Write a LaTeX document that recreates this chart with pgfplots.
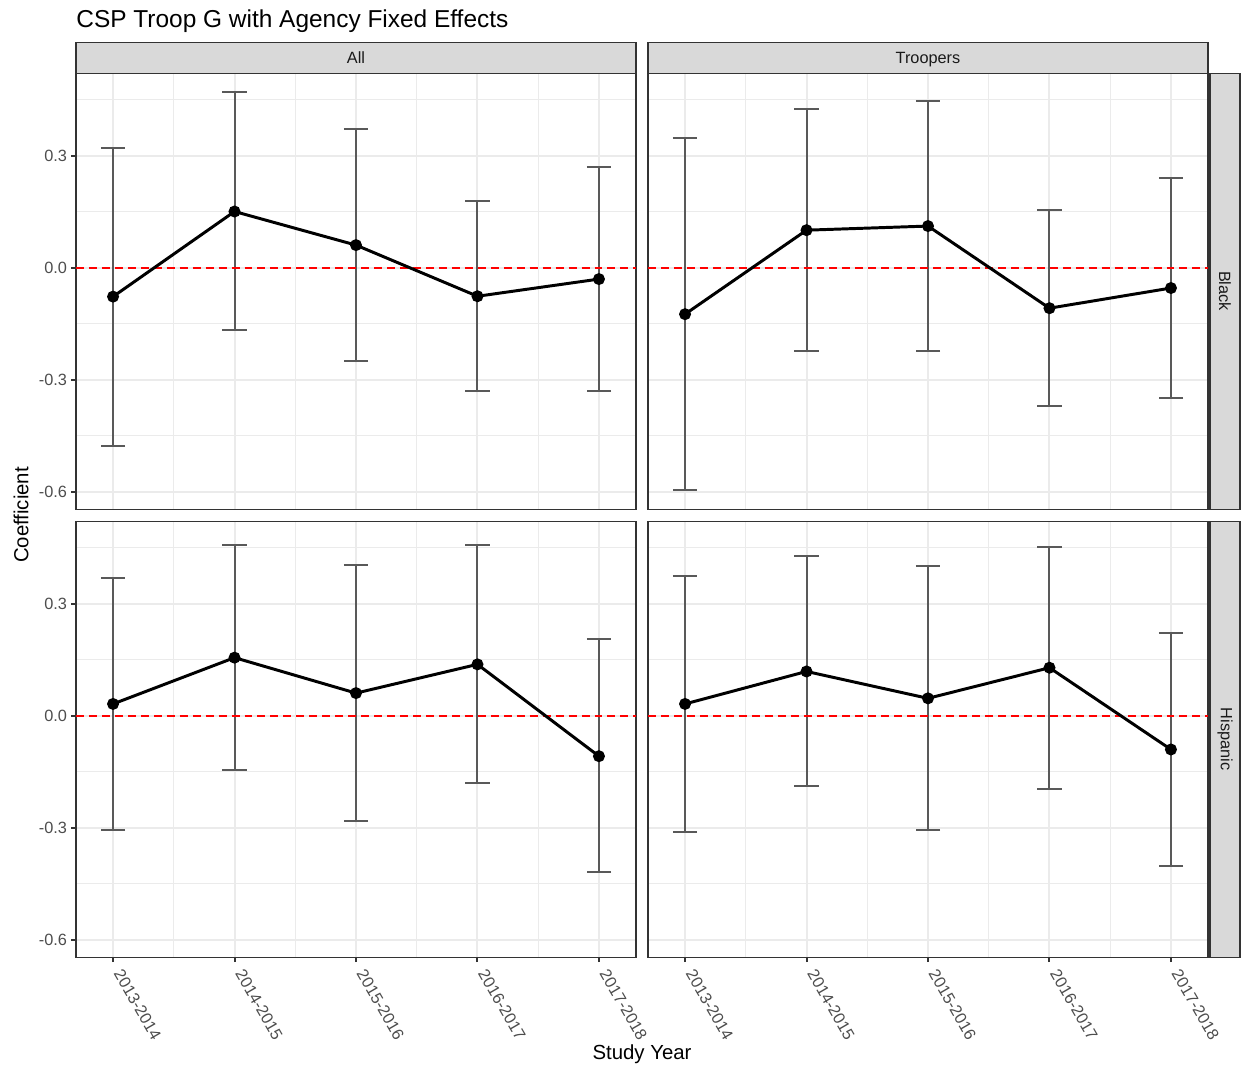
\documentclass[border=0pt]{standalone}
\usepackage{pgfplots}
\pgfplotsset{compat=1.18}
\usepackage{pgfplotstable}
\usepackage{fontspec}
\setmainfont{Liberation Sans}

\definecolor{grey92}{HTML}{EBEBEB}
\definecolor{grey85}{HTML}{D9D9D9}
\definecolor{grey20}{HTML}{333333}
\definecolor{grey30}{HTML}{4D4D4D}
\definecolor{grey10}{HTML}{1A1A1A}
\definecolor{errgrey}{HTML}{595959}

\pgfplotstableread{
x y lo hi
0 -0.077 -0.476 0.322
1 0.151 -0.167 0.470
2 0.061 -0.250 0.371
3 -0.076 -0.330 0.179
4 -0.030 -0.330 0.270
}\AllBlack
\pgfplotstableread{
x y lo hi
0 -0.124 -0.596 0.347
1 0.101 -0.223 0.425
2 0.112 -0.222 0.446
3 -0.108 -0.371 0.155
4 -0.054 -0.349 0.242
}\TroopBlack
\pgfplotstableread{
x y lo hi
0 0.032 -0.305 0.369
1 0.156 -0.144 0.457
2 0.061 -0.281 0.403
3 0.138 -0.180 0.457
4 -0.108 -0.419 0.205
}\AllHisp
\pgfplotstableread{
x y lo hi
0 0.032 -0.310 0.374
1 0.119 -0.189 0.429
2 0.047 -0.305 0.402
3 0.129 -0.195 0.453
4 -0.090 -0.402 0.222
}\TroopHisp

\pgfplotsset{
  panel/.style={
    scale only axis, width=302.4pt, height=235.44pt,
    anchor=south west,
    xmin=-0.305, xmax=4.305, ymin=-0.646, ymax=0.522,
    xtick={0,1,2,3,4}, ytick={-0.6,-0.3,0,0.3},
    minor xtick={0.5,1.5,2.5,3.5}, minor ytick={-0.45,-0.15,0.15,0.45},
    grid=both,
    major grid style={color=grey92, line width=1.07pt},
    minor grid style={color=grey92, line width=0.53pt},
    axis line style={grey20, line width=0.55pt},
    tick style={grey20, line width=1.07pt},
    major tick length=2.7pt, minor tick length=0pt,
    tick align=outside, xtick pos=bottom, ytick pos=left,
    ticklabel style={font=\fontsize{8.8}{10}\selectfont, text=grey30},
    yticklabels={-0.6,-0.3,0.0,0.3},
    xticklabels={2013-2014,2014-2015,2015-2016,2016-2017,2017-2018},
    xticklabel style={rotate=-60, xshift=4.3pt, anchor=west, inner sep=1pt},
    yticklabel style={inner sep=2pt},
    clip=false,
  },
  noxt/.style={xmajorticks=false},
  noyt/.style={ymajorticks=false},
}

\newcommand{\panel}[1]{%
  \addplot[only marks, mark=none, forget plot,
    error bars/.cd, y dir=both, y explicit,
    error bar style={errgrey, line width=1.07pt},
    error mark options={errgrey, line width=1.07pt, mark size=6.56pt, rotate=90}]
    table[x=x, y=y, y error plus expr=\thisrow{hi}-\thisrow{y},
          y error minus expr=\thisrow{y}-\thisrow{lo}] {#1};
  \addplot[red, line width=1.07pt, dash pattern=on 4.3pt off 2.7pt] coordinates {(-0.305,0) (4.305,0)};
  \addplot[black, line width=1.6pt, mark=*, mark size=2.4pt] table[x=x, y=y] {#1};
}

\begin{document}
\begin{tikzpicture}
\useasboundingbox (0,0) rectangle (670.14pt,-576.72pt);

\begin{axis}[panel, noxt, at={(41.04pt,-274.86pt)}]
\panel{\AllBlack}
\end{axis}
\begin{axis}[panel, noxt, noyt, at={(349.92pt,-274.86pt)}]
\panel{\TroopBlack}
\end{axis}
\begin{axis}[panel, at={(41.04pt,-516.78pt)}]
\panel{\AllHisp}
\end{axis}
\begin{axis}[panel, noyt, at={(349.92pt,-516.78pt)}]
\panel{\TroopHisp}
\end{axis}

% strips
\draw[fill=grey85, draw=grey20, line width=0.55pt] (41.04pt,-39.42pt) rectangle (343.44pt,-22.68pt);
\node[anchor=base, text=grey10, font=\fontsize{8.8}{10}\selectfont] at (192.24pt,-34.3pt) {All};
\draw[fill=grey85, draw=grey20, line width=0.55pt] (349.92pt,-39.42pt) rectangle (652.32pt,-22.68pt);
\node[anchor=base, text=grey10, font=\fontsize{8.8}{10}\selectfont] at (501.12pt,-34.3pt) {Troopers};
\draw[fill=grey85, draw=grey20, line width=0.55pt] (653.4pt,-274.86pt) rectangle (669.6pt,-39.42pt);
\node[text=grey10, font=\fontsize{8.8}{10}\selectfont, rotate=-90] at (661.5pt,-157.14pt) {Black};
\draw[fill=grey85, draw=grey20, line width=0.55pt] (653.4pt,-516.78pt) rectangle (669.6pt,-281.34pt);
\node[text=grey10, font=\fontsize{8.8}{10}\selectfont, rotate=-90] at (661.5pt,-399.06pt) {Hispanic};

% titles
\node[anchor=base west, inner sep=0pt, font=\fontsize{13.2}{15}\selectfont] at (41.04pt,-14.58pt) {CSP Troop G with Agency Fixed Effects};
\node[font=\fontsize{11}{13}\selectfont] at (346.7pt,-569.2pt) {Study Year};
\node[font=\fontsize{11}{13}\selectfont, rotate=90] at (11.34pt,-278.1pt) {Coefficient};
\end{tikzpicture}
\end{document}
